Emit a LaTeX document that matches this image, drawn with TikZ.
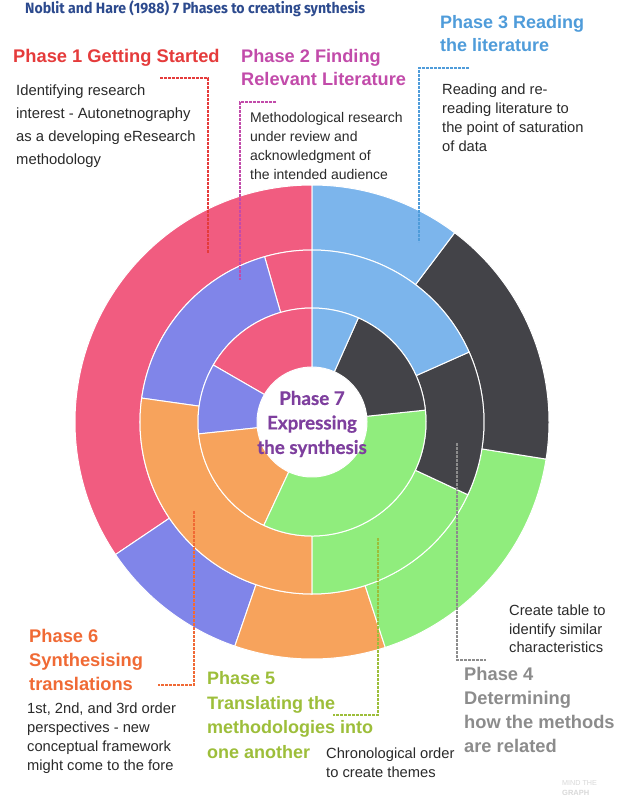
\documentclass[tikz,border=0pt]{standalone}
\usepackage{fontspec}
\usepackage{graphicx}
\setmainfont{Liberation Sans}
\newfontfamily\titlefont{Fira Sans}
\newfontfamily\centerfont{Lato}[FakeBold=0.6]
\definecolor{cpink}{HTML}{F15C80}
\definecolor{cblue}{HTML}{7CB5EC}
\definecolor{cdark}{HTML}{434348}
\definecolor{cgreen}{HTML}{90ED7D}
\definecolor{corange}{HTML}{F7A35C}
\definecolor{cpurple}{HTML}{8085E9}
\definecolor{tnavy}{HTML}{2C4A8E}
\definecolor{tred}{HTML}{E53B3B}
\definecolor{tmag}{HTML}{C24BAA}
\definecolor{tblue}{HTML}{4F9CDA}
\definecolor{tgray}{HTML}{8C8C8C}
\definecolor{tolive}{HTML}{9DBE3A}
\definecolor{torange}{HTML}{F06A35}
\definecolor{tpurple}{HTML}{7E3F9E}
\definecolor{tbody}{HTML}{2A2A2A}
\tikzset{
  seg/.style={draw=white, line width=1pt, line join=round},
  head/.style={inner sep=0pt, anchor=north west, align=left, font=\fontsize{18.3}{24}\selectfont\bfseries},
  body/.style={inner sep=0pt, anchor=north west, align=left, text=tbody, font=\fontsize{14.7}{19}\selectfont},
  leader/.style={line width=1.2pt, dash pattern=on 2.6pt off 1.4pt}
}
\newcommand\ringseg[5]{\filldraw[seg, fill=#1] (#2:#4) -- (#2:#5) arc[start angle=#2, end angle=#3, radius=#5] -- (#3:#4) arc[start angle=#3, end angle=#2, radius=#4] -- cycle;}
\begin{document}
\begin{tikzpicture}[x=1pt,y=-1pt]
\path[use as bounding box, fill=white] (0,0) rectangle (618,796);
% sunburst rings
\begin{scope}[shift={(312,422)}, x=1pt, y=1pt]
  % outer ring
  \ringseg{cpink}{90}{214}{172}{237}
  \ringseg{cpurple}{214}{251}{172}{237}
  \ringseg{corange}{251}{288}{172}{237}
  \ringseg{cgreen}{288}{351}{172}{237}
  \ringseg{cdark}{351}{413}{172}{237}
  \ringseg{cblue}{413}{450}{172}{237}
  % middle ring
  \ringseg{cpink}{90}{106}{114}{172}
  \ringseg{cpurple}{106}{172}{114}{172}
  \ringseg{corange}{172}{270}{114}{172}
  \ringseg{cgreen}{270}{335}{114}{172}
  \ringseg{cdark}{335}{384}{114}{172}
  \ringseg{cblue}{384}{450}{114}{172}
  % inner ring
  \ringseg{cpink}{90}{150}{55}{114}
  \ringseg{cpurple}{150}{186}{55}{114}
  \ringseg{corange}{186}{245}{55}{114}
  \ringseg{cgreen}{245}{366}{55}{114}
  \ringseg{cdark}{366}{426}{55}{114}
  \ringseg{cblue}{426}{450}{55}{114}
\end{scope}
% title
\node[anchor=base west, inner sep=0pt, text=tnavy] (title) at (25,13.3)
  {\resizebox{340pt}{12.8pt}{\titlefont\bfseries Noblit and Hare (1988) 7 Phases to creating synthesis}};
% phase texts
\node[head, anchor=base west, text=tred] (h1) at (13,62.5) {Phase 1 Getting Started};
\node[body, font=\fontsize{14.8}{23}\selectfont] (b1) at (16,85) {Identifying research\\interest - Autonetnography\\as a developing eResearch\\methodology};
\node[head, text=tmag, font=\fontsize{18.2}{23.4}\selectfont\bfseries] (h2) at (241,49) {Phase 2 Finding\\Relevant Literature};
\node[body, font=\fontsize{14}{19}\selectfont] (b2) at (250,112) {Methodological research\\under review and\\acknowledgment of\\the intended audience};
\node[head, text=tblue, font=\fontsize{18}{23.4}\selectfont\bfseries] (h3) at (440,15.3) {Phase 3 Reading\\the literature};
\node[body] (b3) at (442,84) {Reading and re-\\reading literature to\\the point of saturation\\of data};
\node[head, text=tgray] (h4) at (464,667) {Phase 4\\Determining\\how the methods\\are related};
\node[body, font=\fontsize{14.7}{18.3}\selectfont] (b4) at (509,605) {Create table to\\identify similar\\characteristics};
\node[head, text=tolive, font=\fontsize{18}{24.5}\selectfont\bfseries] (h5) at (207,671.5) {Phase 5\\Translating the\\methodologies into\\one another};
\node[body] (b5) at (326,748) {Chronological order\\to create themes};
\node[head, text=torange] (h6) at (29,629) {Phase 6\\Synthesising\\translations};
\node[body] (b6) at (27,703) {1st, 2nd, and 3rd order\\perspectives - new\\conceptual framework\\might come to the fore};
\node[align=center, inner sep=0pt, text=tpurple, font=\centerfont\bfseries\fontsize{18.8}{24.5}\selectfont] (h7) at (312,424) {Phase 7\\Expressing\\the synthesis};
% leader lines
\coordinate (l1a) at (160,78);  \coordinate (l1b) at (208,253);
\coordinate (l2a) at (276,102); \coordinate (l2b) at (240,280);
\coordinate (l3a) at (469,68);  \coordinate (l3b) at (419,242);
\coordinate (l4a) at (457,443); \coordinate (l4b) at (486,660);
\coordinate (l5a) at (378,538); \coordinate (l5b) at (333,715);
\coordinate (l6a) at (194,511); \coordinate (l6b) at (158,685);
\draw[leader, tred] (l1a) -| (l1b);
\draw[leader, tmag] (l2a) -| (l2b);
\draw[leader, tblue] (l3a) -| (l3b);
\draw[leader, tgray] (l4a) |- (l4b);
\draw[leader, tolive] (l5a) |- (l5b);
\draw[leader, torange] (l6a) |- (l6b);
% watermark
\node[anchor=base west, inner sep=0pt, text=black!15, font=\fontsize{7.2}{8}\selectfont] (wm1) at (562,785) {MIND THE};
\node[anchor=base west, inner sep=0pt, text=black!15, font=\fontsize{7.5}{8}\selectfont\bfseries] (wm2) at (562,795) {GRAPH};
\end{tikzpicture}
\end{document}
